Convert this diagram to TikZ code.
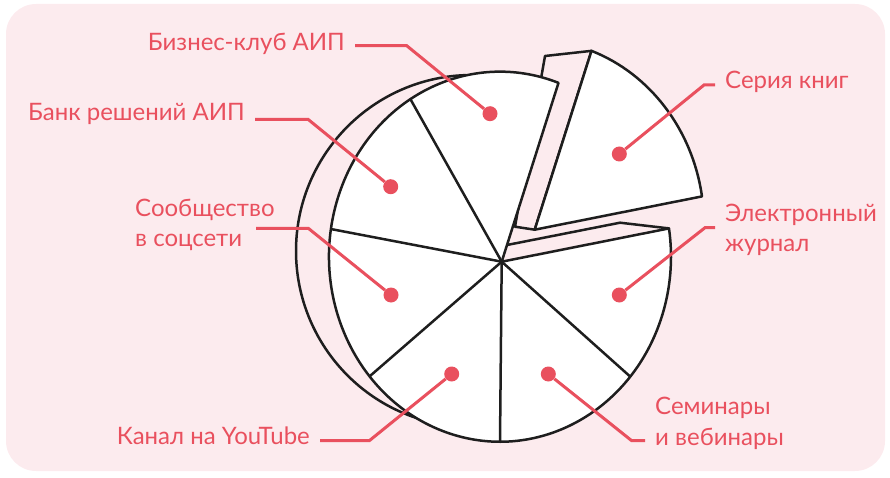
\documentclass[tikz,border=0pt]{standalone}
\usepackage{fontspec}
\setmainfont{Lato}
\usetikzlibrary{calc}
\definecolor{accent}{HTML}{E9505E}
\definecolor{softpink}{HTML}{FCEBEE}
\definecolor{ink}{HTML}{1E1E1E}

\begin{document}
\begin{tikzpicture}[x=1pt, y=1pt,
    piece/.style={draw=ink, line width=2.5pt, line join=round, fill=white},
    rimline/.style={draw=ink, line width=2.5pt, line join=round},
    leader/.style={draw=accent, line width=3pt},
    spot/.style={circle, fill=accent, inner sep=0pt, minimum size=15pt},
    labeltext/.style={text=accent, font=\fontsize{24}{30.5}\selectfont, inner xsep=10pt, inner ysep=2pt, align=left}
]
\useasboundingbox (0,0) rectangle (890,477);
\fill[softpink, rounded corners=30pt] (6,6) rectangle (885,473);

\coordinate (E) at (500,220.3);
\coordinate (P) at (501.7,215.3);
\coordinate (Es) at (533,252.3);
\coordinate (Ps) at (534.7,247.3);

\draw[rimline] (472,226) ++(92:176pt) arc[start angle=92, end angle=252, radius=176pt];

\draw[rimline] (507,232) -- (620,254.3) -- ($(E)+(8.8:171pt and 185pt)$);
\draw[rimline, fill=softpink] ($(Es)+(70:171pt and 185pt)$) -- (545,421) -- (515,250.3) -- (Ps) -- cycle;

\draw[piece] (P) -- ($(E)+(70:171pt and 185pt)$) arc[start angle=70, end angle=368.8, x radius=171pt, y radius=185pt] -- cycle;
\foreach \a in {121.6,171.4,220.3,270,319.6}
    \draw[rimline] (P) -- ($(E)+(\a:171pt and 185pt)$);
\draw[piece] (Ps) -- ($(Es)+(70:171pt and 185pt)$) arc[start angle=70, end angle=8.8, x radius=171pt, y radius=185pt] -- cycle;

\node[spot] (bizdot) at (490,363.3) {};
\node[spot] (bankdot) at (390.7,290.3) {};
\node[spot] (socdot) at (391,182) {};
\node[spot] (ytdot) at (451.7,103) {};
\node[spot] (semdot) at (548.3,103) {};
\node[spot] (ejdot) at (619.3,182) {};
\node[spot] (serdot) at (619.3,323) {};

\node[labeltext, anchor=base east] (biz) at (355,426.3) {Бизнес-клуб АИП};
\node[labeltext, anchor=base east] (bank) at (255,356) {Банк решений АИП};
\node[labeltext, anchor=base west] (soc) at (125,230.3) {Сообщество\\в соцсети};
\node[labeltext, anchor=base east] (yt) at (320,33) {Канал на YouTube};
\node[labeltext, anchor=base west] (sem) at (645,32) {Семинары\\и вебинары};
\node[labeltext, anchor=base west] (ej) at (715,225.3) {Электронный\\журнал};
\node[labeltext, anchor=base west] (ser) at (715,388.7) {Серия книг};

\coordinate (bizbend) at (406.7,431.3);
\coordinate (bankbend) at (308,357.7);
\coordinate (socstart) at (256,248.7);
\coordinate (socbend) at (308.3,248.7);
\coordinate (ytbend) at (369.3,36.3);
\coordinate (sembend) at (631.7,36.3);
\coordinate (ejbend) at (705,249.3);
\coordinate (serbend) at (704,392);

\draw[leader] (biz.east |- bizbend) -- (bizbend) -- (bizdot);
\draw[leader] (bank.east |- bankbend) -- (bankbend) -- (bankdot);
\draw[leader] (socstart) -- (socbend) -- (socdot);
\draw[leader] (yt.east |- ytbend) -- (ytbend) -- (ytdot);
\draw[leader] (sem.west |- sembend) -- (sembend) -- (semdot);
\draw[leader] (ej.west |- ejbend) -- (ejbend) -- (ejdot);
\draw[leader] (ser.west |- serbend) -- (serbend) -- (serdot);
\end{tikzpicture}
\end{document}
